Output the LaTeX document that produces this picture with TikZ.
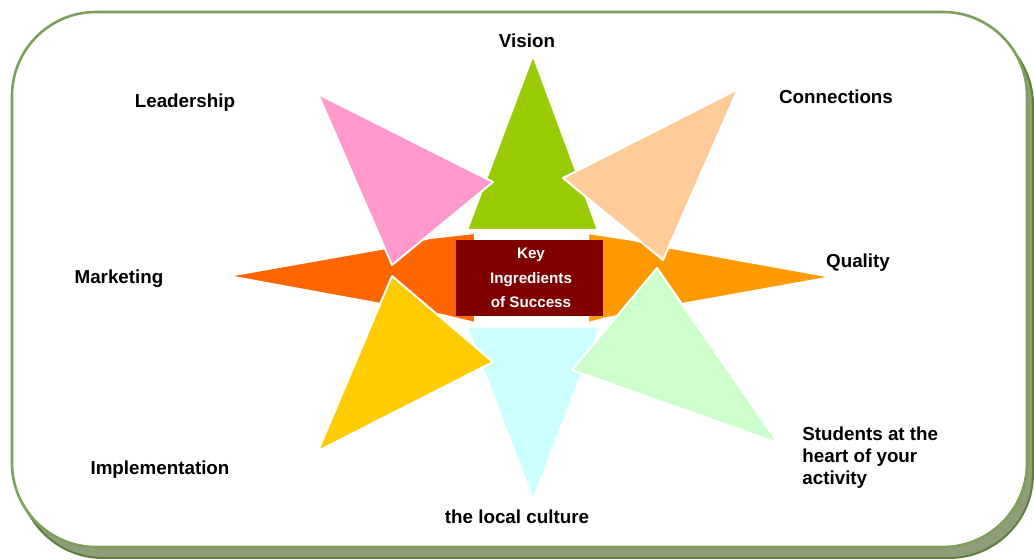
\documentclass[tikz,border=0pt]{standalone}
\usepackage{fontspec}
\setmainfont{Liberation Sans}
\definecolor{cvision}{HTML}{99CC00}
\definecolor{cculture}{HTML}{CCFFFF}
\definecolor{cmarket}{HTML}{FF6600}
\definecolor{cquality}{HTML}{FF9900}
\definecolor{clead}{HTML}{FF99CC}
\definecolor{cconn}{HTML}{FFCC99}
\definecolor{cimpl}{HTML}{FFCC00}
\definecolor{cstud}{HTML}{CCFFCC}
\definecolor{cmaroon}{HTML}{800000}
\definecolor{cframe}{HTML}{7EA05A}
\definecolor{cshadow}{HTML}{8E9E78}
\definecolor{cshadowedge}{HTML}{5F7F3F}
\begin{document}
\begin{tikzpicture}[x=0.5pt,y=-0.5pt,
  petal/.style={draw=white, line width=1pt, line join=round},
  lbl/.style={font=\bfseries\fontsize{9.4}{11}\selectfont, text=black, inner sep=0pt},
  ctr/.style={font=\bfseries\fontsize{7.6}{12.25}\selectfont, text=white, align=center, inner sep=0pt}]
\useasboundingbox (0,0) rectangle (1034,560);
% frame with shadow
\draw[fill=cshadow, draw=cshadowedge, line width=1pt, rounded corners=42pt] (19,21) rectangle (1033,558);
\draw[fill=white, draw=cframe, line width=1.3pt, rounded corners=42pt] (12,12) rectangle (1027,547);
% petals
\path[petal, fill=cvision] (533,55) -- (598,230) -- (467,230) -- cycle;
\path[petal, fill=cculture] (533,500) -- (600,327) -- (467,327) -- cycle;
\path[petal, fill=cmarket] (228,276) -- (392,247) -- (430,238) -- (475,233) -- (475,323) -- (442,315) -- (392,306) -- cycle;
\path[petal, fill=cquality] (832,277) -- (655,245) -- (633,240) -- (588,233) -- (588,323) -- (607,318) -- (640,312) -- (665,307) -- cycle;
\path[petal, fill=clead] (318,94) -- (493,182) -- (392,265) -- cycle;
\path[petal, fill=cconn] (738,89) -- (563,178) -- (663,260) -- cycle;
\path[petal, fill=cimpl] (318,451) -- (392,276) -- (493,362) -- cycle;
\path[petal, fill=cstud] (778,443) -- (657,268) -- (572,370) -- cycle;
% center box
\node[fill=cmaroon, minimum width=73.5pt, minimum height=38pt, inner sep=0pt] (box) at (529.5,278) {};
\node[ctr] (ctrtext) at (531,278) {Key\\Ingredients\\of Success};
% labels
\node[lbl] (vision) at (527,41) {Vision};
\node[lbl] (leadership) at (185,103) {Leadership};
\node[lbl] (connections) at (836,97) {Connections};
\node[lbl] (marketing) at (119,279) {Marketing};
\node[lbl] (quality) at (858,263) {Quality};
\node[lbl] (implementation) at (160,470) {Implementation};
\node[lbl] (culture) at (517,517) {the local culture};
\node[lbl, anchor=west, align=left] (students) at (802,458) {Students at the\\heart of your\\activity};
\end{tikzpicture}
\end{document}
